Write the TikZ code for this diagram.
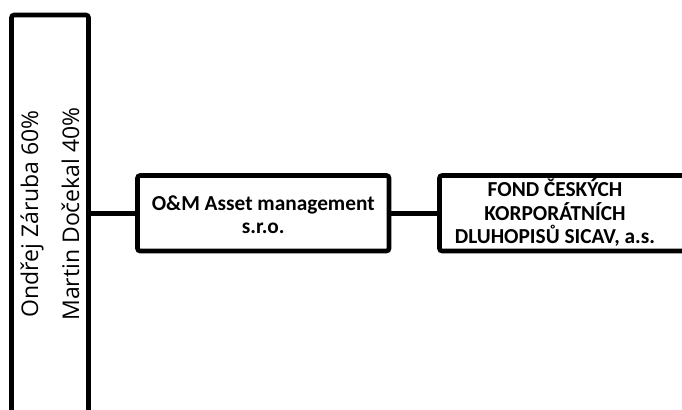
\documentclass[tikz,border=0pt]{standalone}
\usepackage{fontspec}
\setmainfont{Carlito}
\newfontfamily\ownerfont{Open Sans}
\begin{document}
\begin{tikzpicture}[x=0.75pt,y=-0.75pt,
  frame/.style={draw=black,line width=3.5pt,fill=white,rounded corners=2pt,inner sep=0pt},
  boxtext/.style={font=\bfseries\fontsize{16}{17.6}\selectfont,align=center,inner sep=0pt},
  ownertext/.style={font=\ownerfont\fontsize{17.25}{30.75}\selectfont,align=center,rotate=90,inner sep=0pt},
  link/.style={draw=black,line width=3.5pt}]
\useasboundingbox (0,0) rectangle (682,410);
\clip (0,0) rectangle (682,410);
% tall owners box (extends below the picture)
\node[frame,minimum width=77pt*0.75,minimum height=405pt*0.75] (own) at (50,217.5) {};
\node[ownertext] (owners) at (50,214) {Ondřej Záruba 60\%\\Martin Dočekal 40\%};
% middle box
\node[frame,minimum width=251.5pt*0.75,minimum height=75.5pt*0.75] (box2) at (263.25,213.25) {};
\node[boxtext] (box2text) at (263.25,214.5) {O\&M Asset management\\s.r.o.};
% right box (extends beyond the right edge)
\node[frame,minimum width=270pt*0.75,minimum height=75.5pt*0.75] (box3) at (574.5,213.25) {};
\node[boxtext] (box3text) at (555,212.5) {FOND ČESKÝCH\\KORPORÁTNÍCH\\DLUHOPISŮ SICAV, a.s.};
% connectors
\draw[link] (box2.west) -- (box2.west -| own.east);
\draw[link] (box2.east) -- (box3.west);
\end{tikzpicture}
\end{document}
